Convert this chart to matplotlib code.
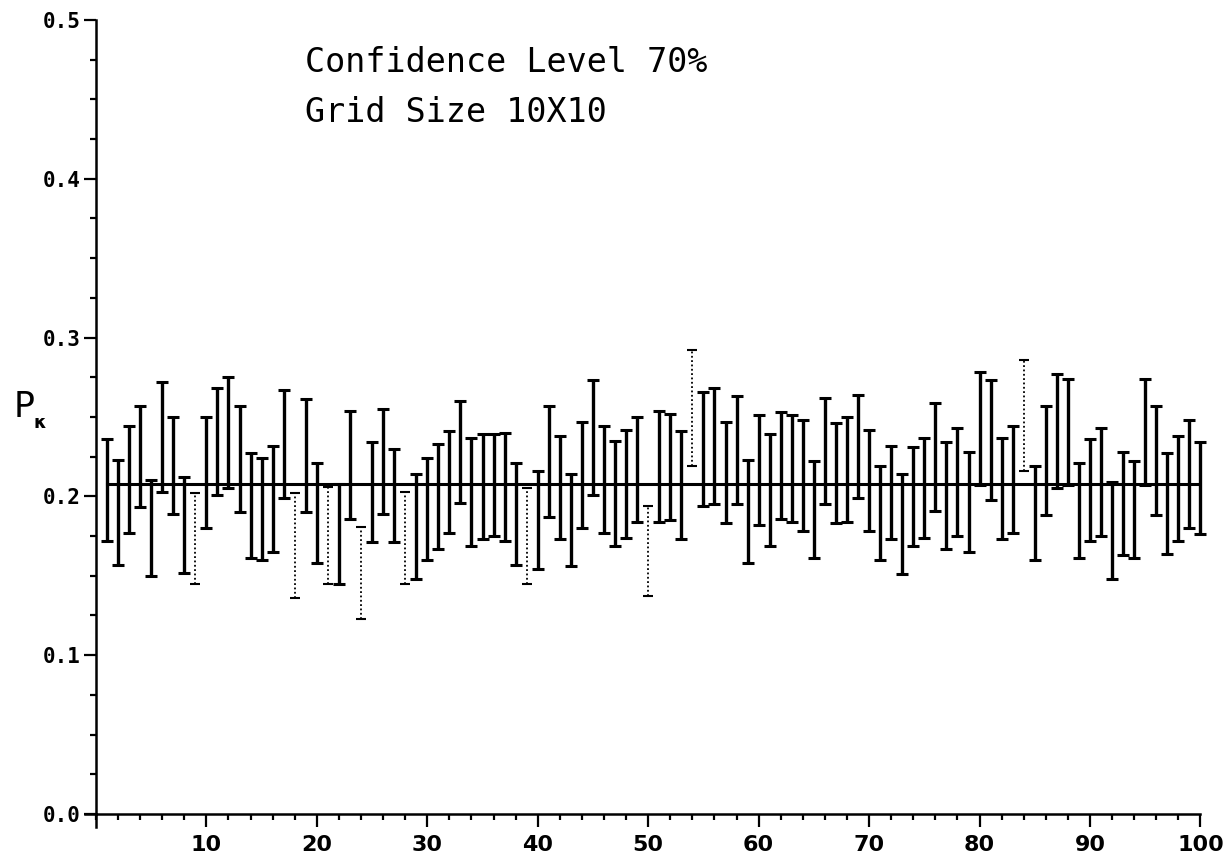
import matplotlib
matplotlib.use("Agg")
import matplotlib.pyplot as plt
import numpy as np
from matplotlib.ticker import MultipleLocator

# sample index 1..100, lower / upper limit of each confidence interval
sample = np.arange(1, 101)
lower = [0.172, 0.157, 0.177, 0.193, 0.150, 0.203, 0.189, 0.152, 0.145, 0.180,
         0.201, 0.205, 0.190, 0.161, 0.160, 0.165, 0.199, 0.136, 0.190, 0.158,
         0.145, 0.145, 0.186, 0.123, 0.171, 0.189, 0.171, 0.145, 0.148, 0.160,
         0.167, 0.177, 0.196, 0.169, 0.173, 0.175, 0.172, 0.157, 0.145, 0.154,
         0.187, 0.173, 0.156, 0.180, 0.201, 0.177, 0.169, 0.174, 0.184, 0.137,
         0.184, 0.185, 0.173, 0.219, 0.194, 0.195, 0.183, 0.195, 0.158, 0.182,
         0.169, 0.186, 0.184, 0.178, 0.161, 0.195, 0.183, 0.184, 0.199, 0.178,
         0.160, 0.173, 0.151, 0.169, 0.174, 0.191, 0.167, 0.175, 0.165, 0.207,
         0.198, 0.173, 0.177, 0.216, 0.160, 0.188, 0.205, 0.207, 0.161, 0.172,
         0.175, 0.148, 0.163, 0.161, 0.207, 0.188, 0.164, 0.172, 0.180, 0.176]
upper = [0.236, 0.223, 0.244, 0.257, 0.210, 0.272, 0.250, 0.212, 0.202, 0.250,
         0.268, 0.275, 0.257, 0.227, 0.224, 0.232, 0.267, 0.202, 0.261, 0.221,
         0.206, 0.208, 0.254, 0.181, 0.234, 0.255, 0.230, 0.203, 0.214, 0.224,
         0.233, 0.241, 0.260, 0.237, 0.239, 0.239, 0.240, 0.221, 0.205, 0.216,
         0.257, 0.238, 0.214, 0.247, 0.273, 0.244, 0.235, 0.242, 0.250, 0.194,
         0.254, 0.252, 0.241, 0.292, 0.266, 0.268, 0.247, 0.263, 0.223, 0.251,
         0.239, 0.253, 0.251, 0.248, 0.222, 0.262, 0.246, 0.250, 0.264, 0.242,
         0.219, 0.232, 0.214, 0.231, 0.237, 0.259, 0.234, 0.243, 0.228, 0.278,
         0.273, 0.237, 0.244, 0.286, 0.219, 0.257, 0.277, 0.274, 0.221, 0.236,
         0.243, 0.209, 0.228, 0.222, 0.274, 0.257, 0.227, 0.238, 0.248, 0.234]
# intervals that miss the true value (drawn dotted)
missed = [9, 18, 21, 24, 28, 39, 50, 54, 84]
true_p = 0.208

x_ticks = list(range(10, 101, 10))
y_ticks = [0.0, 0.1, 0.2, 0.3, 0.4, 0.5]

lower = np.array(lower)
upper = np.array(upper)
miss = np.isin(sample, missed)
mid = (lower + upper) / 2
half = (upper - lower) / 2

fig = plt.figure(figsize=(12.3, 8.65), dpi=100)
ax = fig.add_axes([0.078, 0.059, 0.898, 0.918])

# solid intervals
eb1 = ax.errorbar(sample[~miss], mid[~miss], yerr=half[~miss], fmt="none",
                  ecolor="black", elinewidth=2.4, capsize=4.5, capthick=2.2)
# dotted intervals
eb2 = ax.errorbar(sample[miss], mid[miss], yerr=half[miss], fmt="none",
                  ecolor="black", elinewidth=1.3, capsize=3.5, capthick=1.5)
eb2[2][0].set_linestyle((0, (1, 1.4)))
for eb in (eb1, eb2):
    for art in list(eb[1]) + list(eb[2]):
        art.set_clip_on(False)

ax.plot([1, 100], [true_p, true_p], color="black", lw=2.2)

ax.set_xlim(0, 100)
ax.set_ylim(0, 0.5)
for s in ["top", "right"]:
    ax.spines[s].set_visible(False)
for s in ["left", "bottom"]:
    ax.spines[s].set_linewidth(1.8)
# little overhang of the axes at the origin
ax.plot([-1.0, 0], [0, 0], color="black", lw=1.8, clip_on=False)
ax.plot([0, 0], [-0.008, 0], color="black", lw=1.8, clip_on=False)

ax.set_xticks(x_ticks)
ax.set_xticklabels([str(v) for v in x_ticks])
ax.set_yticks(y_ticks)
ax.set_yticklabels(["%.1f" % v for v in y_ticks])
ax.xaxis.set_minor_locator(MultipleLocator(2))
ax.yaxis.set_minor_locator(MultipleLocator(0.025))

ax.tick_params(axis="x", which="major", direction="out", length=9, width=1.6, pad=6)
ax.tick_params(axis="x", which="minor", direction="out", length=4.5, width=1.6)
ax.tick_params(axis="y", which="major", direction="out", length=9, width=1.6, pad=2)
ax.tick_params(axis="y", which="minor", direction="out", length=4.5, width=1.6)
for lab in ax.get_xticklabels():
    lab.set_fontsize(16)
    lab.set_fontweight("bold")
for lab in ax.get_yticklabels():
    lab.set_fontsize(15)
    lab.set_fontweight("bold")
    lab.set_family("DejaVu Sans Mono")

fig.text(0.011, 0.518, "P", fontsize=25, family="DejaVu Sans", va="baseline")
fig.text(0.027, 0.505, "\u03ba", fontsize=13, family="DejaVu Sans",
         fontweight="bold", va="baseline")

fig.text(0.248, 0.9168, "Confidence Level 70%", fontsize=24,
         family="DejaVu Sans Mono", va="baseline")
fig.text(0.248, 0.859, "Grid Size 10X10", fontsize=24,
         family="DejaVu Sans Mono", va="baseline")

fig.savefig("out.png", dpi=100)
